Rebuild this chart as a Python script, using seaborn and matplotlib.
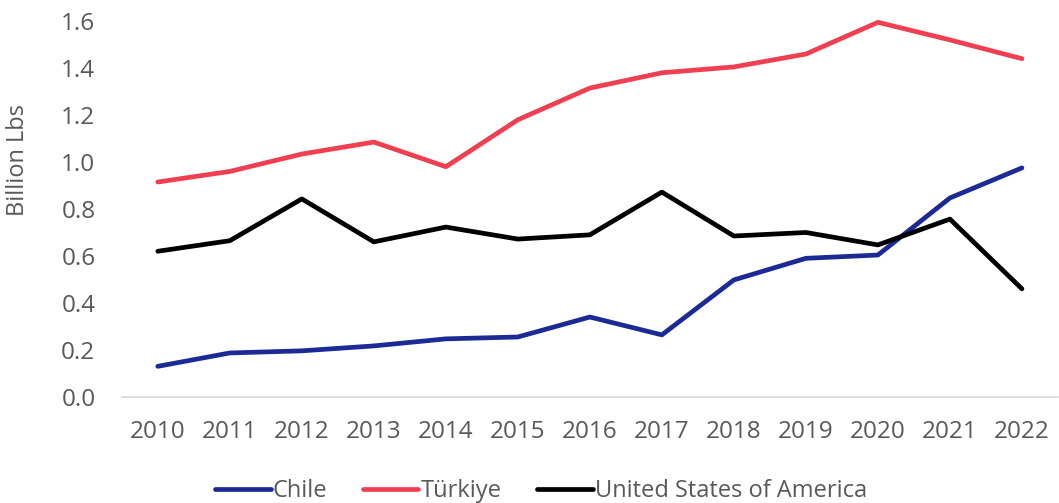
"""Pistachio-style production lines, 2010-2022."""

import seaborn as sns
import matplotlib.pyplot as plt
import pandas as pd

years = list(range(2010, 2023))
chile = [0.13, 0.187, 0.196, 0.217, 0.247, 0.255, 0.34, 0.264, 0.498, 0.59, 0.604, 0.847, 0.975]
turkiye = [0.915, 0.96, 1.034, 1.085, 0.98, 1.18, 1.315, 1.38, 1.405, 1.46, 1.595, 1.52, 1.44]
usa = [0.62, 0.665, 0.843, 0.66, 0.723, 0.672, 0.69, 0.872, 0.685, 0.70, 0.647, 0.757, 0.46]
countries = ['Chile', 'Türkiye', 'United States of America']

df = pd.DataFrame({
    'Year': years * 3,
    'Value': chile + turkiye + usa,
    'Country': [countries[0]] * 13 + [countries[1]] * 13 + [countries[2]] * 13,
})

palette = {'Chile': '#1C2A96', 'Türkiye': '#EF3F50', 'United States of America': '#000000'}

sns.set_theme(style='white')
plt.rcParams['font.family'] = ['Open Sans', 'DejaVu Sans']
grey = '#595959'

fig = plt.figure(figsize=(10.59, 5.03), dpi=100)
ax = fig.add_axes([0.115, 0.211, 0.884, 0.747])
sns.lineplot(data=df, x='Year', y='Value', hue='Country', palette=palette,
             linewidth=3.4, ax=ax, legend=True)
for line in ax.lines:
    line.set_clip_on(False)
    line.set_solid_capstyle('round')

ax.set_xlim(2009.5, 2022.5)
ax.set_ylim(0, 1.6)
ax.set_xticks(years)
ax.set_xticklabels([str(y) for y in years])
ax.set_yticks([0, 0.2, 0.4, 0.6, 0.8, 1.0, 1.2, 1.4, 1.6])
ax.set_yticklabels([f'{v:.1f}' for v in ax.get_yticks()])
ax.tick_params(axis='both', labelsize=17.5, colors=grey, length=0)
ax.tick_params(axis='x', pad=17)
ax.tick_params(axis='y', pad=19)
ax.set_xlabel('')
ax.set_ylabel('Billion Lbs', fontsize=17, color=grey)
ax.yaxis.set_label_coords(-0.098, 0.63)

for side in ['top', 'right', 'left']:
    ax.spines[side].set_visible(False)
ax.spines['bottom'].set_color('#D9D9D9')
ax.spines['bottom'].set_linewidth(1.2)

leg = ax.legend(loc='center', bbox_to_anchor=(0.448, -0.25), ncol=3,
                frameon=False, fontsize=17, handlelength=2.35, handletextpad=0.1,
                columnspacing=1.5, borderpad=0)
for t in leg.get_texts():
    t.set_color(grey)
for h in leg.get_lines():
    h.set_linewidth(3.4)

fig.savefig('out.png', dpi=100)
plt.close()
